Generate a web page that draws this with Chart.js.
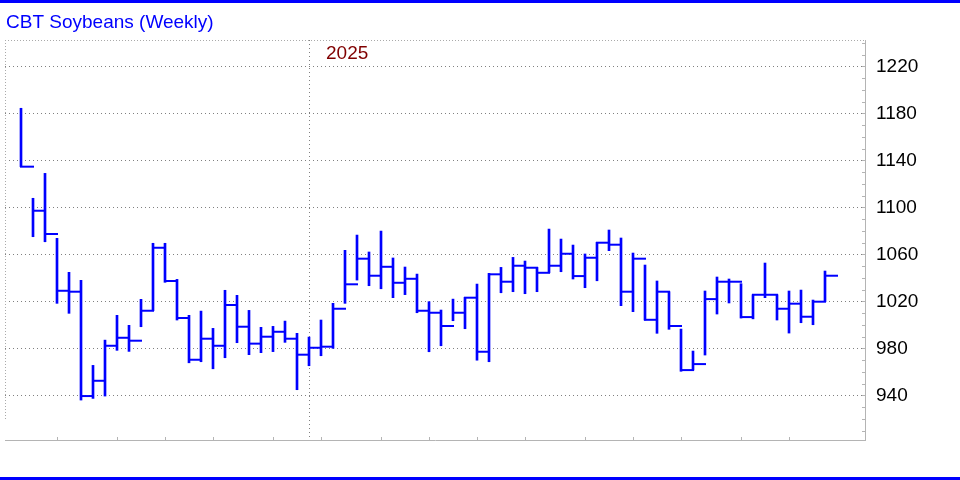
<!DOCTYPE html>
<html>
<head>
<meta charset="utf-8">
<title>CBT Soybeans (Weekly)</title>
<script src="https://cdn.jsdelivr.net/npm/chart.js@4.4.1/dist/chart.umd.min.js"></script>
<style>
  html, body { margin: 0; padding: 0; background: #fff; }
  #wrap { width: 960px; height: 480px; }
</style>
</head>
<body>
<div id="wrap"><canvas id="soyChart" width="960" height="480"></canvas></div>
<script>
// Weekly bars, oldest first (cents per bushel)
const highs = [1184.3, 1107.7, 1128.9, 1073.6, 1044.7, 1037.9, 965.5, 987.0, 1008.1, 999.6,
  1021.7, 1069.4, 1069.4, 1038.7, 1008.1, 1011.7, 997.0, 1029.4, 1025.1, 1012.3,
  997.9, 998.7, 1003.2, 992.8, 989.6, 1004.1, 1018.3, 1063.4, 1076.4, 1062.0,
  1079.8, 1056.9, 1049.2, 1043.2, 1019.7, 1012.6, 1021.9, 1023.4, 1034.7, 1043.8,
  1048.9, 1057.4, 1054.3, 1048.9, 1081.5, 1073.0, 1067.9, 1060.3, 1070.2, 1080.7,
  1073.9, 1061.1, 1050.9, 1037.3, 1028.2, 996.4, 977.7, 1028.8, 1040.7, 1039.0,
  1035.0, 1025.6, 1052.6, 1025.6, 1028.8, 1029.6, 1021.1, 1045.8];
const lows = [1134.6, 1075.0, 1070.7, 1018.3, 1009.8, 936.0, 937.4, 939.4, 978.3, 977.4,
  998.4, 1012.0, 1036.2, 1004.1, 967.7, 968.6, 962.6, 972.0, 984.8, 974.6,
  976.3, 977.2, 985.1, 944.8, 965.2, 973.7, 980.0, 1018.3, 1038.1, 1033.3,
  1030.7, 1023.1, 1025.7, 1010.3, 977.1, 982.2, 1003.5, 996.7, 969.9, 968.6,
  1027.3, 1028.2, 1026.5, 1028.2, 1044.3, 1045.2, 1039.0, 1031.6, 1037.5, 1063.1,
  1016.3, 1011.2, 1004.1, 992.8, 996.2, 960.5, 961.5, 974.3, 1009.2, 1018.6,
  1005.8, 1005.1, 1023.1, 1004.1, 993.0, 1001.8, 1000.1, 1019.7];
const closes = [1134.6, 1097.1, 1077.3, 1029.0, 1028.2, 939.4, 952.4, 982.2, 989.0, 986.5,
  1012.0, 1065.6, 1037.3, 1005.8, 970.3, 988.2, 982.2, 1016.9, 998.4, 984.0,
  989.9, 994.1, 988.2, 974.6, 980.5, 981.4, 1013.7, 1034.5, 1056.3, 1041.8,
  1049.4, 1035.8, 1039.2, 1012.0, 1010.3, 999.0, 1010.3, 1023.1, 977.1, 1043.0,
  1036.7, 1050.3, 1048.6, 1044.3, 1050.3, 1060.5, 1041.5, 1057.1, 1069.9, 1068.2,
  1028.2, 1056.3, 1004.3, 1028.2, 999.0, 961.5, 966.6, 1021.9, 1036.7, 1036.7,
  1006.6, 1025.6, 1025.6, 1013.7, 1018.0, 1006.9, 1019.7, 1041.8];

const chartTitle = "CBT Soybeans (Weekly)";
const yearLabel = "2025";
const yearStartWeek = 24;   // week where the 2025 divider sits
const monthStartWeeks = [3, 8, 12, 16, 21, 25, 30, 34, 38, 42, 47, 51, 55, 60, 64];
const priceTicks = [940, 980, 1020, 1060, 1100, 1140, 1180, 1220];
const minorStep = 10;

const blue = '#0000ff';
const fontFamily = '"Liberation Sans", Arial, sans-serif';

// frame bits the chart options don't cover: rules, title, year label, small ticks
const frame = {
  id: 'frame',
  afterDraw(chart) {
    const { ctx, chartArea: a, scales: { x, y } } = chart;
    ctx.save();
    ctx.fillStyle = blue;
    ctx.fillRect(0, 0, chart.width, 3);
    ctx.fillRect(0, chart.height - 3, chart.width, 3);

    ctx.font = '19px ' + fontFamily;
    ctx.textAlign = 'left';
    ctx.textBaseline = 'alphabetic';
    ctx.fillText(chartTitle, 6, 28);

    // dotted top and left edges
    ctx.strokeStyle = '#aaaaaa';
    ctx.lineWidth = 1;
    ctx.setLineDash([1, 2]);
    ctx.beginPath();
    ctx.moveTo(a.left, a.top + 0.5);
    ctx.lineTo(a.right, a.top + 0.5);
    ctx.moveTo(a.left + 0.5, a.top);
    ctx.lineTo(a.left + 0.5, a.bottom - 20);
    ctx.stroke();
    ctx.setLineDash([]);

    ctx.strokeStyle = '#b4b4b4';
    ctx.beginPath();
    monthStartWeeks.forEach(w => {
      const px = Math.round(x.getPixelForValue(w)) + 0.5;
      ctx.moveTo(px, a.bottom - 3);
      ctx.lineTo(px, a.bottom);
    });
    for (let v = Math.ceil(y.min / minorStep) * minorStep; v <= y.max; v += minorStep) {
      const py = Math.round(y.getPixelForValue(v)) + 0.5;
      ctx.moveTo(a.right - 3, py);
      ctx.lineTo(a.right, py);
    }
    ctx.stroke();

    ctx.fillStyle = '#800000';
    ctx.fillText(yearLabel, x.getPixelForValue(yearStartWeek) + 17, 59);
    ctx.restore();
  }
};

new Chart(document.getElementById('soyChart'), {
  type: 'bar',
  data: {
    datasets: [
      {
        // high-low range
        type: 'bar',
        data: highs.map((h, i) => ({ x: i, y: [lows[i], h] })),
        backgroundColor: blue,
        borderWidth: 0,
        barThickness: 2
      },
      {
        // close tick to the right
        type: 'line',
        data: closes.map((c, i) => ({ x: i + 0.5, y: c })),
        showLine: false,
        pointStyle: 'line',
        pointRadius: 7,
        pointHoverRadius: 7,
        pointBorderWidth: 2,
        borderColor: blue,
        backgroundColor: blue
      }
    ]
  },
  options: {
    responsive: false,
    animation: false,
    devicePixelRatio: 1,
    layout: { autoPadding: false, padding: { top: 40, left: 5, right: 0, bottom: 0 } },
    plugins: { legend: { display: false }, tooltip: { enabled: false } },
    scales: {
      x: {
        type: 'linear',
        offset: false,
        min: -4 / 3,
        max: 70 + 1 / 3,
        afterBuildTicks: s => { s.ticks = [{ value: yearStartWeek }]; },
        afterFit: s => { s.height = 40; },
        ticks: { display: false },
        grid: { color: '#808080', drawTicks: false, offset: false },
        border: { color: '#b4b4b4', dash: [1, 3] }
      },
      y: {
        position: 'right',
        min: 902,
        max: 1242.4,
        afterBuildTicks: s => { s.ticks = priceTicks.map(v => ({ value: v })); },
        afterFit: s => { s.width = 95; },
        ticks: {
          padding: 11,
          color: '#000',
          font: { family: fontFamily, size: 19 },
          callback: v => String(v)
        },
        grid: { color: '#808080', drawTicks: false },
        border: { color: '#b4b4b4', dash: [1, 3] }
      }
    }
  },
  plugins: [frame]
});
</script>
</body>
</html>
